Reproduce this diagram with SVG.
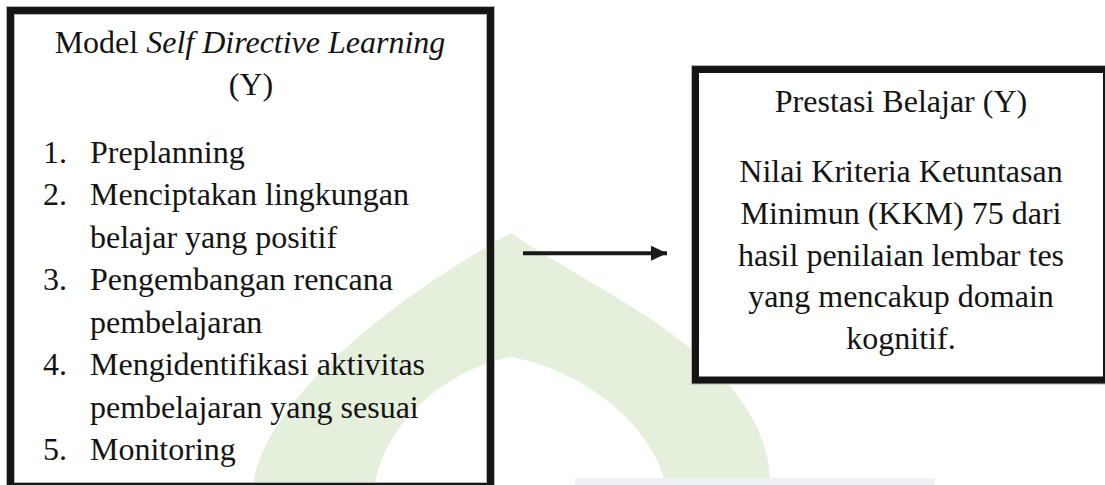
<svg xmlns="http://www.w3.org/2000/svg" width="1105" height="485" viewBox="0 0 1105 485">
  <style>
    .t { font-family: "Liberation Serif", "Times New Roman", serif; font-size: 32px; fill: #141414; }
    .c { text-anchor: middle; }
    .i { font-style: italic; }
    .box { stroke: #151515; stroke-width: 7; }
    .halo { stroke: #b5b5b5; stroke-width: 9; fill: none; }
    .wm { fill: #e4efdc; }
  </style>
  <defs>
    <marker id="arrowhead" markerUnits="userSpaceOnUse" markerWidth="17" markerHeight="17" refX="16" refY="8" orient="auto">
      <path d="M0,0.5 L16,8 L0,15.5 Z" fill="#1a1a1a"/>
    </marker>
    <filter id="soft" x="-10%" y="-50%" width="120%" height="200%">
      <feGaussianBlur stdDeviation="1.5"/>
    </filter>
  </defs>

  <rect width="1105" height="485" fill="#ffffff"/>

  <!-- watermark -->
  <g id="watermark">
    <path class="wm" d="M253,485 C265,400 390,300 511,233 C600,295 770,360 770,485 L666,485 C650,420 580,370 511,357 C450,368 385,420 375,485 Z"/>
    <rect x="575" y="478" width="360" height="7" fill="#eef0f3"/>
  </g>

  <g id="node-model">
    <rect class="halo" x="10.5" y="10.5" width="480" height="476"/>
    <rect class="box" x="10.5" y="10.5" width="480" height="476" fill="none"/>
    <text class="t c" x="250" y="53">Model <tspan class="i">Self Directive Learning</tspan></text>
    <text class="t c" x="251" y="95">(Y)</text>
    <text class="t" x="43" y="163">1.</text>
    <text class="t" x="90" y="163">Preplanning</text>
    <text class="t" x="43" y="205">2.</text>
    <text class="t" x="90" y="205">Menciptakan lingkungan</text>
    <text class="t" x="90" y="247.5">belajar yang positif</text>
    <text class="t" x="43" y="290">3.</text>
    <text class="t" x="90" y="290">Pengembangan rencana</text>
    <text class="t" x="90" y="332.5">pembelajaran</text>
    <text class="t" x="43" y="375">4.</text>
    <text class="t" x="90" y="375">Mengidentifikasi aktivitas</text>
    <text class="t" x="90" y="417.5">pembelajaran yang sesuai</text>
    <text class="t" x="43" y="460">5.</text>
    <text class="t" x="90" y="460">Monitoring</text>
  </g>

  <g id="node-prestasi">
    <rect class="halo" x="695.5" y="69.5" width="411" height="310.5"/>
    <rect class="box" x="695.5" y="69.5" width="411" height="310.5" fill="#ffffff"/>
    <text class="t c" x="901" y="112">Prestasi Belajar (Y)</text>
    <text class="t c" x="901" y="182">Nilai Kriteria Ketuntasan</text>
    <text class="t c" x="901" y="224">Minimun (KKM) 75 dari</text>
    <text class="t c" x="901" y="265.5">hasil penilaian lembar tes</text>
    <text class="t c" x="901" y="307">yang mencakup domain</text>
    <text class="t c" x="901" y="348.5">kognitif.</text>
  </g>

  <g id="connectors">
    <line x1="524" y1="255.5" x2="660" y2="255.5" stroke="#777" stroke-width="4" filter="url(#soft)" opacity="0.6"/>
    <line x1="523" y1="253.3" x2="667" y2="253.3" stroke="#1a1a1a" stroke-width="4" marker-end="url(#arrowhead)"/>
  </g>
</svg>
